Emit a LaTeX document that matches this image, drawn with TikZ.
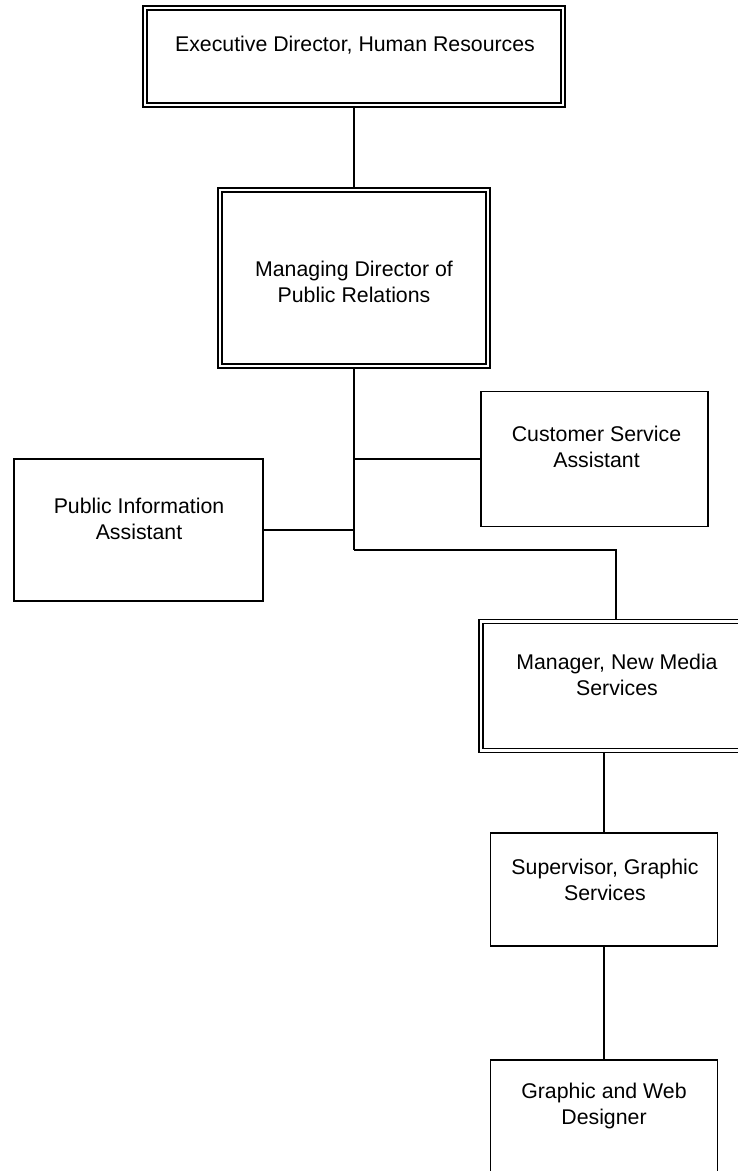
\documentclass[tikz,border=0pt]{standalone}
\usepackage{fontspec}
\setmainfont{Liberation Sans}

\begin{document}
\begin{tikzpicture}[x=1pt,y=-1pt]
\tikzstyle{block} = [rectangle, draw=black, line width=1.4pt, inner sep=0pt]
\tikzstyle{block_double} = [rectangle, draw=black, line width=1.3pt,
double=white, double distance=2.8pt, inner sep=0pt, outer sep=2.7pt]
\tikzstyle{caption} = [align=center, inner sep=0pt,
font=\fontsize{21.3}{26}\selectfont]
\tikzstyle{line} = [draw, line width=1.4pt];
\useasboundingbox (0,0) rectangle (737,1171);

% boxes
\node [block_double, minimum width=418pt, minimum height=97pt] (exec) at (354,56.5) {};
\node [block_double, minimum width=268pt, minimum height=176pt] (md) at (354,278) {};
\node [block, minimum width=227pt, minimum height=135pt] (cust) at (594.5,459) {};
\node [block, minimum width=249pt, minimum height=142pt] (pia) at (138.5,530) {};
\node [block_double, minimum width=270pt, minimum height=129pt] (nm) at (616,686) {};
\node [block, minimum width=227pt, minimum height=113pt] (sup) at (604,889.5) {};
\node [block, minimum width=227pt, minimum height=113pt] (des) at (604,1116.5) {};

% texts
\node [caption] (exec_txt) at (355,45) {Executive Director, Human Resources};
\node [caption] (md_txt) at (354,282) {Managing Director of\\Public Relations};
\node [caption] (cust_txt) at (596.5,447) {Customer Service\\Assistant};
\node [caption] (pia_txt) at (139,519) {Public Information\\Assistant};
\node [caption] (nm_txt) at (617,675) {Manager, New Media\\Services};
\node [caption] (sup_txt) at (605,880) {Supervisor, Graphic\\Services};
\node [caption] (des_txt) at (604,1106) {Graphic and Web\\Designer};

\coordinate (trunk_end) at (354,550);

\tikzstyle{every path}=[line]
\path (exec) -- (md);
\path (md.south) -- (trunk_end);
\path (cust.west) -- (cust.west -| md.south);
\path (pia.east) -- (pia.east -| md.south);
\path (trunk_end) -| (nm.north);
\path (nm.south -| sup.north) -- (sup.north);
\path (sup) -- (des);

\end{tikzpicture}
\end{document}
